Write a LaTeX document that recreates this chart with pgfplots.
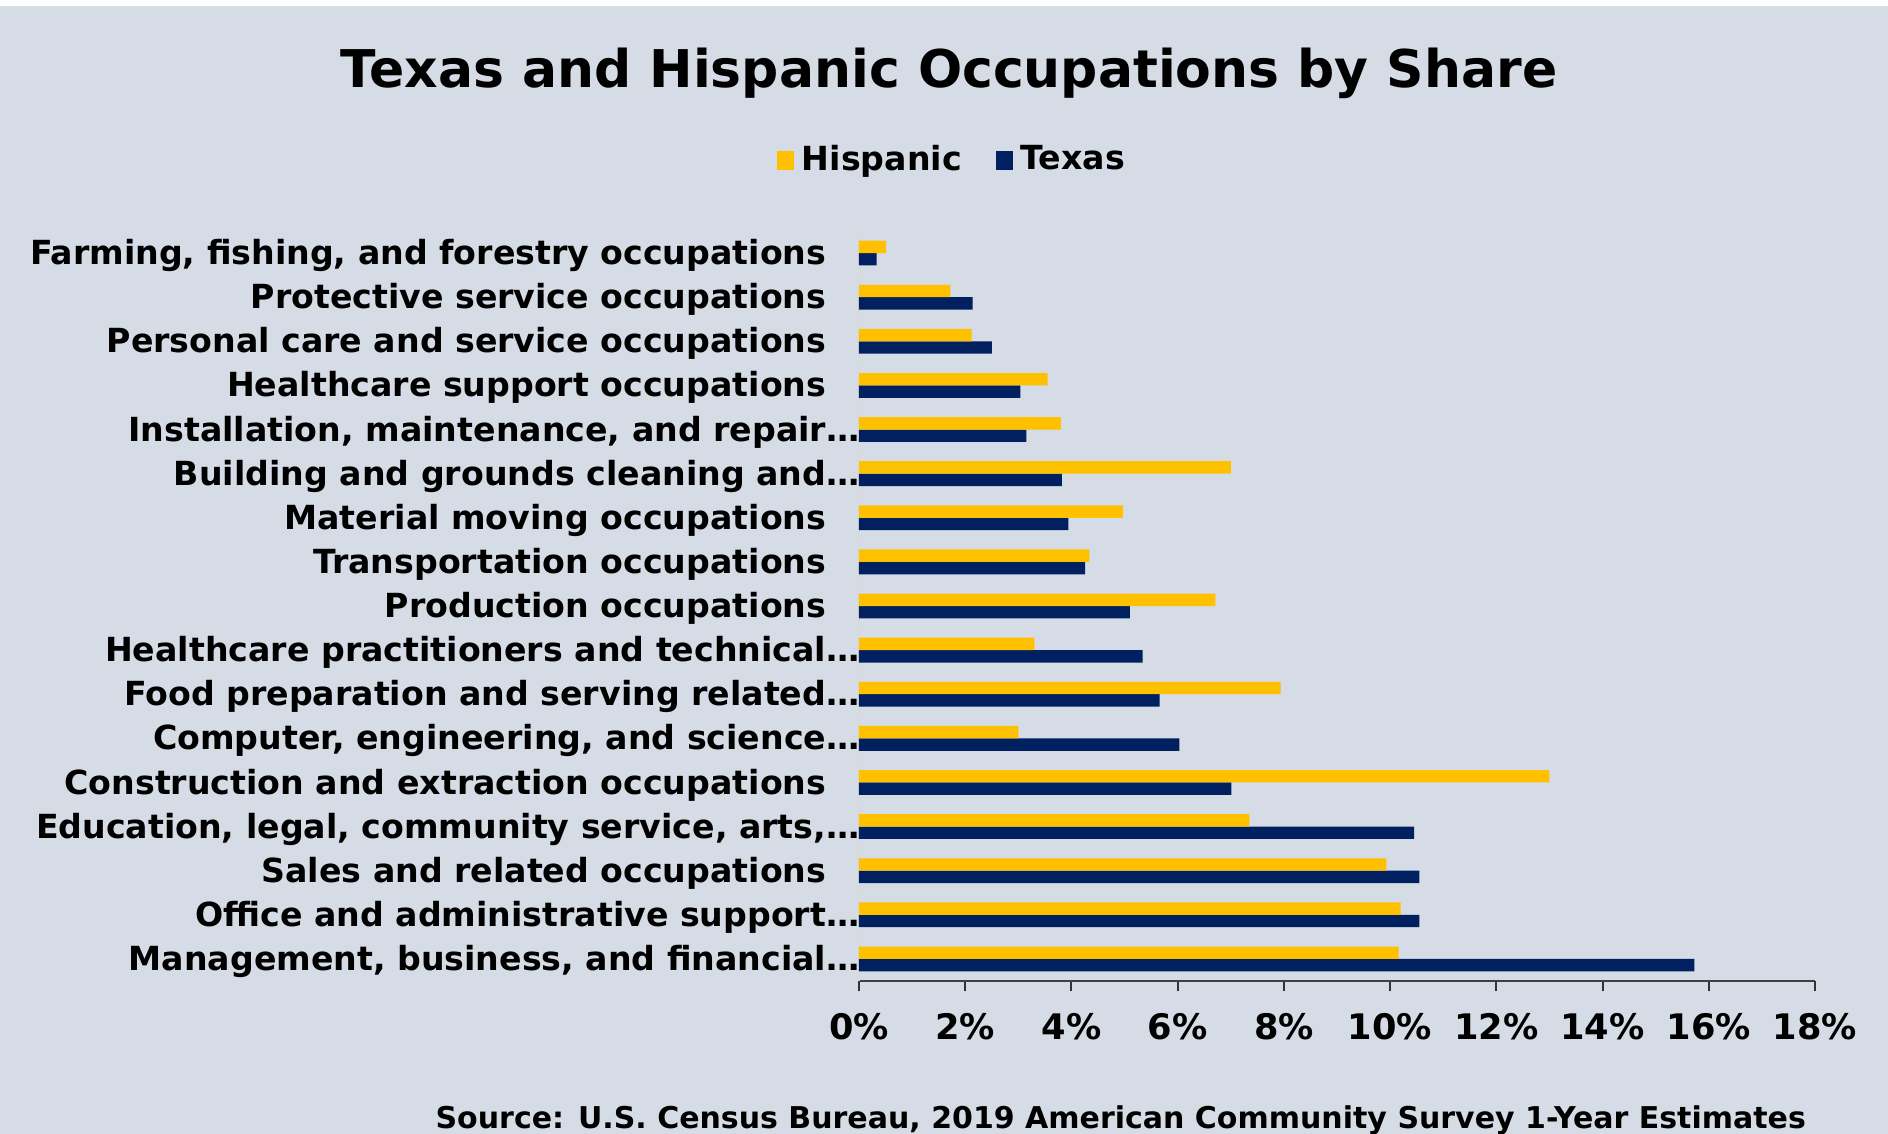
\documentclass[border=0pt]{standalone}
\usepackage{fontspec}
\setmainfont{DejaVu Sans}
\usepackage{pgfplots}
\usepackage{pgfplotstable}
\pgfplotsset{compat=1.18}
\definecolor{bgc}{HTML}{D6DCE5}
\definecolor{hisp}{HTML}{FFC000}
\definecolor{txnavy}{HTML}{002060}

% idx 0 = bottom row (Management) ... 16 = top row (Farming)
\pgfplotstableread{
idx hisp texas
0 10.16 15.73
1 10.20 10.55
2 9.93 10.55
3 7.35 10.45
4 13.00 7.01
5 3.00 6.03
6 7.94 5.66
7 3.30 5.34
8 6.71 5.10
9 4.34 4.26
10 4.97 3.94
11 7.00 3.82
12 3.80 3.15
13 3.55 3.04
14 2.12 2.50
15 1.72 2.14
16 0.51 0.33
}\occ

\newcommand{\lab}{\fontsize{8.3}{10}\selectfont\bfseries}

\begin{document}
\begin{tikzpicture}
\fill[white] (0pt,0pt) rectangle (472pt,-283.5pt);
\fill[bgc] (0pt,-1.5pt) rectangle (472pt,-283.5pt);
\node[font=\fontsize{13}{15}\selectfont\bfseries, anchor=base] at (237.25pt,-22pt)
  {Texas and Hispanic Occupations by Share};
\begin{axis}[
  at={(214.75pt,-245.25pt)}, anchor=south west,
  scale only axis, width=239pt, height=187.5pt,
  xbar=0pt, bar width=3.1pt,
  xmin=0, xmax=18, ymin=-0.5, ymax=16.5,
  axis x line*=bottom, axis y line*=left,
  x axis line style={black!75, line width=0.5pt},
  y axis line style={black!15, line width=0.4pt},
  tick align=outside, major tick length=2.5pt,
  x tick style={black!80, line width=0.5pt},
  y tick style={draw=none},
  xtick={0,2,...,18},
  xticklabels={0\%,2\%,4\%,6\%,8\%,10\%,12\%,14\%,16\%,18\%},
  xticklabel style={font=\fontsize{8.8}{10}\selectfont\bfseries, inner sep=0pt, yshift=-5.5pt},
  ytick={0,...,16},
  yticklabels={
    {Management, business, and financial\rlap{…}},
    {Office and administrative support\rlap{…}},
    {Sales and related occupations},
    {Education, legal, community service, arts,\rlap{…}},
    {Construction and extraction occupations},
    {Computer, engineering, and science\rlap{…}},
    {Food preparation and serving related\rlap{…}},
    {Healthcare practitioners and technical\rlap{…}},
    {Production occupations},
    {Transportation occupations},
    {Material moving occupations},
    {Building and grounds cleaning and\rlap{…}},
    {Installation, maintenance, and repair\rlap{…}},
    {Healthcare support occupations},
    {Personal care and service occupations},
    {Protective service occupations},
    {Farming, fishing, and forestry occupations}},
  yticklabel style={font=\lab, anchor=east, inner sep=0pt, xshift=-5.5pt, yshift=-0.6pt},
  reverse legend,
  legend columns=2,
  legend image code/.code={\fill[#1] (0pt,-2.4pt) rectangle (4.2pt,2.4pt);},
  legend style={at={(rel axis cs:0.1004,1.094)}, anchor=center, draw=none, fill=none,
    font=\lab, /tikz/every even column/.append style={column sep=6.5pt}},
]
\addplot[fill=txnavy, draw=none] table[x=texas, y=idx] {\occ};
\addplot[fill=hisp, draw=none] table[x=hisp, y=idx] {\occ};
\legend{Texas, Hispanic}
\end{axis}
\node[font=\fontsize{7.5}{9}\selectfont\bfseries, anchor=base east] at (455pt,-282pt)
  {Source: U.S. Census Bureau, 2019 American Community Survey 1-Year Estimates};
\pgfresetboundingbox
\useasboundingbox (0pt,0pt) rectangle (472pt,-283.5pt);
\end{tikzpicture}
\end{document}
